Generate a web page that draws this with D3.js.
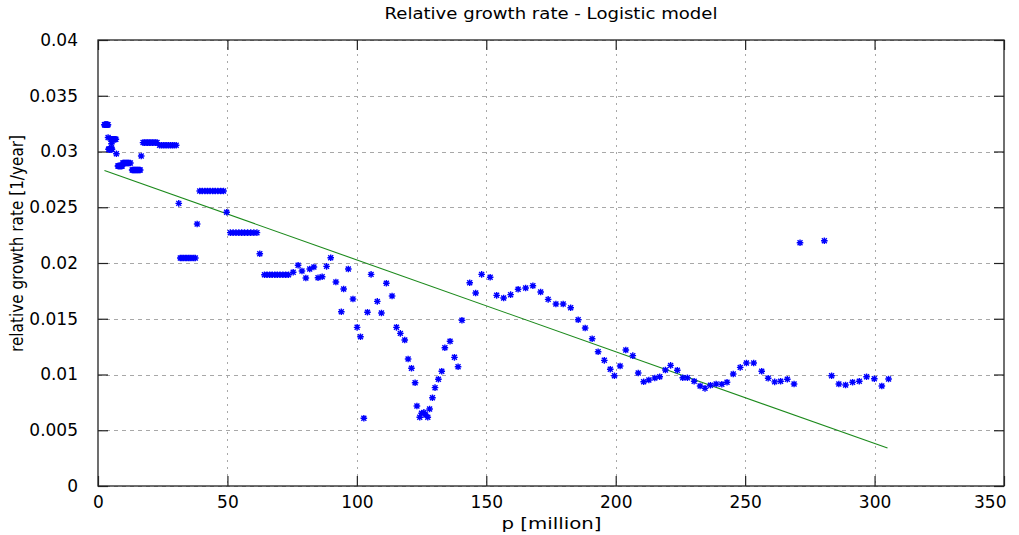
<!DOCTYPE html>
<html>
<head>
<meta charset="utf-8">
<script src="https://cdn.jsdelivr.net/npm/d3@7"></script>
<style>
  html, body { margin: 0; padding: 0; background: #fff; }
  svg { display: block; }
  text { font-family: "DejaVu Sans", sans-serif; fill: #000; }
</style>
</head>
<body>
<svg id="chart" width="1019" height="535"></svg>
<script>
// Population p (million) and relative growth rate (1/year) per data point
const popMillion = [
  2.5, 2.65, 2.8, 2.95, 3.1, 3.25, 3.4, 3.55, 3.7, 3.85,
  3.9,
  5.0, 5.2, 5.4, 5.6, 5.8, 6.0, 6.2, 6.4, 6.6, 6.9,
  4.1, 4.25, 4.4, 4.55, 4.7, 4.85, 5.0, 5.15, 5.3, 5.4,
  5.2, 7.1,
  7.7, 7.9, 8.1, 8.3, 8.5, 8.7, 8.9, 9.1, 9.3,
  9.6, 9.9, 10.2, 10.5, 10.8, 11.1, 11.4, 11.7, 12.0, 12.5,
  13.2, 13.5, 13.8, 14.1, 14.4, 14.7, 15.0, 15.3, 15.6, 16.0, 16.3,
  16.7,
  17.4, 18.0, 18.6, 19.2, 19.8, 20.4, 21.0, 21.6, 22.2, 22.8,
  23.8, 24.5, 25.2, 25.9, 26.6, 27.3, 28.0, 28.7, 29.4, 30.2,
  31.2,
  31.8, 32.4, 33.0, 33.7, 34.3, 35.0, 35.6, 36.3, 37.0, 37.6,
  38.3,
  39.3, 40.3, 41.3, 42.3, 43.3, 44.3, 45.3, 46.3, 47.4, 48.5,
  49.7,
  51.1, 52.2, 53.3, 54.4, 55.5, 56.6, 57.8, 59.0, 60.2, 61.4,
  62.5,
  64.3, 65.3, 66.3, 67.3, 68.3, 69.3, 70.3, 71.4, 72.5, 73.6,
  75.4, 77.3, 78.8, 80.3, 81.8, 83.4, 85.0, 86.6, 88.3, 89.9,
  91.9, 94.0, 94.9, 96.7, 98.5, 100.1, 101.4, 102.7, 104.1, 105.5,
  107.9, 109.5, 111.4, 113.6, 115.3, 116.8, 118.5, 119.8, 121.1, 122.5,
  123.2, 124.3, 125.0, 125.9, 126.6, 127.4, 128.1, 129.2, 130.2, 131.5,
  132.8, 134.0, 136.0, 137.7, 139.1, 140.6, 143.6, 145.9, 148.2, 151.5,
  154.0, 156.7, 159.4, 162.3, 165.2, 168.0, 171.0, 173.9, 176.9, 179.7,
  182.6, 185.5, 188.2, 190.9, 193.2, 195.6, 197.9, 199.5, 201.7, 203.9,
  206.6, 208.7, 210.8, 212.8, 215.1, 217.0, 219.2, 221.2, 223.8, 225.9,
  227.7, 230.3, 232.6, 234.5, 236.6, 238.8, 241.0, 243.0, 245.4, 248.1,
  250.5, 253.3, 256.4, 258.9, 261.4, 263.7, 266.3, 268.9, 271.2, 280.6,
  283.4, 286.2, 288.8, 291.5, 294.1, 296.9, 299.9, 302.8, 305.4
];
const growthRate = [
  0.0324, 0.0324, 0.0324, 0.0324, 0.0324, 0.0324, 0.0324, 0.0324, 0.0324, 0.0324,
  0.03126,
  0.0311, 0.0311, 0.0311, 0.0311, 0.0311, 0.0311, 0.0311, 0.0311, 0.0311, 0.0311,
  0.0302, 0.0302, 0.0302, 0.0302, 0.0302, 0.0302, 0.0302, 0.0302, 0.0302, 0.0302,
  0.0307, 0.0298,
  0.0287, 0.0287, 0.0287, 0.0287, 0.0287, 0.0287, 0.0287, 0.0287, 0.0287,
  0.02897, 0.02897, 0.02897, 0.02897, 0.02897, 0.02897, 0.02897, 0.02897, 0.02897, 0.02897,
  0.02834, 0.02834, 0.02834, 0.02834, 0.02834, 0.02834, 0.02834, 0.02834, 0.02834, 0.02834, 0.02834,
  0.0296,
  0.0308, 0.0308, 0.0308, 0.0308, 0.0308, 0.0308, 0.0308, 0.0308, 0.0308, 0.0308,
  0.03056, 0.03056, 0.03056, 0.03056, 0.03056, 0.03056, 0.03056, 0.03056, 0.03056, 0.03056,
  0.02535,
  0.02045, 0.02045, 0.02045, 0.02045, 0.02045, 0.02045, 0.02045, 0.02045, 0.02045, 0.02045,
  0.0235,
  0.02646, 0.02646, 0.02646, 0.02646, 0.02646, 0.02646, 0.02646, 0.02646, 0.02646, 0.02646,
  0.02455,
  0.02272, 0.02272, 0.02272, 0.02272, 0.02272, 0.02272, 0.02272, 0.02272, 0.02272, 0.02272,
  0.02083,
  0.01895, 0.01895, 0.01895, 0.01895, 0.01895, 0.01895, 0.01895, 0.01895, 0.01895, 0.01895,
  0.01917, 0.0198, 0.01928, 0.01865, 0.01946, 0.01964, 0.01868, 0.01877, 0.0197, 0.02047,
  0.01829, 0.01563, 0.01767, 0.01946, 0.01677, 0.01423, 0.01339, 0.00607, 0.01558, 0.01898,
  0.01656, 0.01551, 0.01818, 0.01704, 0.01423, 0.01369, 0.01309, 0.01139, 0.01056, 0.00926,
  0.00717, 0.00616, 0.00652, 0.0066, 0.00637, 0.00616, 0.0069, 0.00792, 0.00882, 0.00957,
  0.01029, 0.0124, 0.01298, 0.01154, 0.0107, 0.01486, 0.01823, 0.01731, 0.01898, 0.01872,
  0.0171, 0.01686, 0.01716, 0.01764, 0.01776, 0.01796, 0.0174, 0.01674, 0.01632, 0.01632,
  0.01599, 0.01491, 0.01417, 0.01321, 0.01204, 0.01127, 0.01047, 0.00989, 0.01076, 0.0122,
  0.01169, 0.01013, 0.00935, 0.00951, 0.00969, 0.0098, 0.0104, 0.01082, 0.01038, 0.00971,
  0.00971, 0.00939, 0.00897, 0.00876, 0.00903, 0.00915, 0.00912, 0.0093, 0.01004, 0.01064,
  0.01103, 0.01103, 0.01029, 0.00967, 0.00934, 0.00939, 0.00957, 0.00915, 0.02182, 0.022,
  0.00989, 0.00915, 0.00906, 0.0093, 0.00939, 0.0098, 0.00962, 0.00897, 0.0096
];

// Logistic model: straight-line fit r(p) between its end points
const fitPop = [2.5, 305.0];
const fitRate = [0.0283, 0.0034];

const xTicks = [0, 50, 100, 150, 200, 250, 300, 350];
const yTicks = [0, 0.005, 0.01, 0.015, 0.02, 0.025, 0.03, 0.035, 0.04];

const titleText = "Relative growth rate - Logistic model";
const xLabel = "p [million]";
const yLabel = "relative growth rate [1/year]";

// ---- layout ----
const svg = d3.select("#chart");
const plotL = 98, plotR = 1004, plotT = 40, plotB = 486;
const x = d3.scaleLinear().domain([0, 350]).range([plotL, plotR]);
const y = d3.scaleLinear().domain([0, 0.04]).range([plotB, plotT]);
const tickLen = 10;

// grid
const grid = svg.append("g").attr("stroke", "#a8a8a8").attr("stroke-width", 1);
grid.selectAll("line.h").data(yTicks).join("line")
  .attr("class", "h")
  .attr("x1", plotL).attr("x2", plotR)
  .attr("y1", d => Math.round(y(d)) + 0.5).attr("y2", d => Math.round(y(d)) + 0.5)
  .attr("stroke-dasharray", "4,4");
grid.selectAll("line.v").data(xTicks.slice(1, -1)).join("line")
  .attr("class", "v")
  .attr("x1", d => Math.round(x(d)) + 0.5).attr("x2", d => Math.round(x(d)) + 0.5)
  .attr("y1", plotT).attr("y2", plotB)
  .attr("stroke-dasharray", "2,5");

// axes (ticks inward, mirrored on opposite sides)
const fmtY = d => d === 0 ? "0" : String(+d.toFixed(3));
const axB = svg.append("g").attr("transform", `translate(0,${plotB})`)
  .call(d3.axisBottom(x).tickValues(xTicks).tickSize(-tickLen).tickPadding(19).tickFormat(d3.format("d")));
const axT = svg.append("g").attr("transform", `translate(0,${plotT})`)
  .call(d3.axisTop(x).tickValues(xTicks).tickSize(-tickLen).tickFormat(""));
const axL = svg.append("g").attr("transform", `translate(${plotL},0)`)
  .call(d3.axisLeft(y).tickValues(yTicks).tickSize(-tickLen).tickPadding(10 + tickLen).tickFormat(fmtY));
const axR = svg.append("g").attr("transform", `translate(${plotR},0)`)
  .call(d3.axisRight(y).tickValues(yTicks).tickSize(-tickLen).tickFormat(""));
[axB, axT, axL, axR].forEach(a => {
  a.select(".domain").remove();
  a.selectAll(".tick line").attr("stroke", "#222").attr("stroke-width", 1.2);
  a.selectAll(".tick text").attr("font-size", 17).attr("font-family", "DejaVu Sans, sans-serif").attr("fill", "#000");
});
axB.selectAll(".tick text").attr("dy", "0.2em");
// keep the last x label inside the canvas
axB.selectAll(".tick text").filter(d => d === 350).attr("text-anchor", "end").attr("x", 2);

// border
svg.append("rect")
  .attr("x", plotL).attr("y", plotT).attr("width", plotR - plotL).attr("height", plotB - plotT)
  .attr("fill", "none").attr("stroke", "#222").attr("stroke-width", 1.3);

// logistic fit line
svg.append("line")
  .attr("x1", x(fitPop[0])).attr("y1", y(fitRate[0]))
  .attr("x2", x(fitPop[1])).attr("y2", y(fitRate[1]))
  .attr("stroke", "#1c8a1c").attr("stroke-width", 1.1);

// data points drawn as asterisks
const s = 3.3;
const star = `M${-s},0H${s}M0,${-s}V${s}M${-s * 0.75},${-s * 0.75}L${s * 0.75},${s * 0.75}M${-s * 0.75},${s * 0.75}L${s * 0.75},${-s * 0.75}`;
svg.append("g").selectAll("path").data(d3.range(popMillion.length)).join("path")
  .attr("transform", i => `translate(${x(popMillion[i])},${y(growthRate[i])})`)
  .attr("d", star)
  .attr("fill", "none").attr("stroke", "#0000ff").attr("stroke-width", 1.4);

// titles
svg.append("text").attr("x", (plotL + plotR) / 2).attr("y", 19)
  .attr("text-anchor", "middle").attr("font-size", 15)
  .attr("textLength", 333).attr("lengthAdjust", "spacingAndGlyphs")
  .text(titleText);
svg.append("text").attr("x", (plotL + plotR) / 2 + 0.5).attr("y", 529)
  .attr("text-anchor", "middle").attr("font-size", 16)
  .attr("textLength", 100).attr("lengthAdjust", "spacingAndGlyphs")
  .text(xLabel);
svg.append("text")
  .attr("transform", `translate(23,${(135 + 352) / 2}) rotate(-90)`)
  .attr("text-anchor", "middle").attr("font-size", 17)
  .attr("textLength", 217).attr("lengthAdjust", "spacingAndGlyphs")
  .text(yLabel);
</script>
</body>
</html>
